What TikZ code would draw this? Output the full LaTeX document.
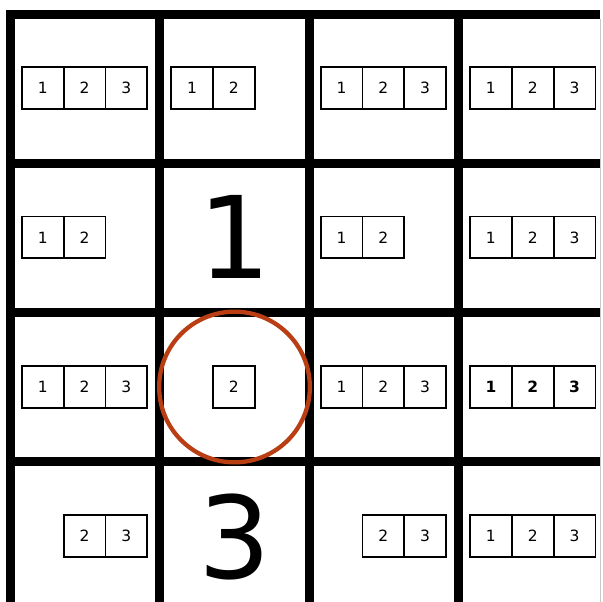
\documentclass[tikz,border=0pt]{standalone}
\usepackage{fontspec}
\setmainfont{DejaVu Sans}
\usepackage{xcolor}
\usepackage{tikz}
\usetikzlibrary{positioning}
\definecolor{pickred}{RGB}{186,62,20}
\definecolor{edgegray}{RGB}{200,200,200}

\begin{document}
\begin{tikzpicture}[x=1pt, y=-1pt,
  slot/.style={draw, line width=1.8pt, minimum size=41.8pt, inner sep=0pt, font=\fontsize{15.5}{18}\selectfont},
  slotbold/.style={slot, font=\fontsize{15.5}{18}\selectfont\bfseries},
  given/.style={inner sep=0pt, font=\fontsize{114}{120}\selectfont},
  gridline/.style={line width=9pt}]
\useasboundingbox (0,0) rectangle (603,602);
\fill[white] (0,0) rectangle (603,602);
% grid
\draw[edgegray, line width=1pt] (600.5,19) -- (600.5,602);
\foreach \x in {10.5,159.5,309,458.5}
  \draw[gridline] (\x,10) -- (\x,602);
\foreach \y in {14.5,163,312.3,461.5}
  \draw[gridline] (6,\y) -- (600,\y);
% candidates
\foreach \c/\r/\cands/\look in {0/0/{1,2,3}/slot, 1/0/{1,2}/slot, 2/0/{1,2,3}/slot, 3/0/{1,2,3}/slot,
    0/1/{1,2}/slot, 2/1/{1,2}/slot, 3/1/{1,2,3}/slot,
    0/2/{1,2,3}/slot, 1/2/{2}/slot, 2/2/{1,2,3}/slot, 3/2/{1,2,3}/slotbold,
    0/3/{2,3}/slot, 2/3/{2,3}/slot, 3/3/{1,2,3}/slot}
  \foreach \k in \cands
    \node[\look] (cand-\c-\r-\k) at ({84.5+149.4*\c+41.8*(\k-2)},{88+149.4*\r}) {\k};
% givens
\node[given] (given-1-1) at (234.5,237) {1};
\node[given] (given-1-3) at (234.5,537) {3};
% picked cell
\node[circle, draw=pickred, line width=4.3pt, minimum size=150.7pt, inner sep=0pt] (pick) at (234.5,387) {};
\end{tikzpicture}
\end{document}
